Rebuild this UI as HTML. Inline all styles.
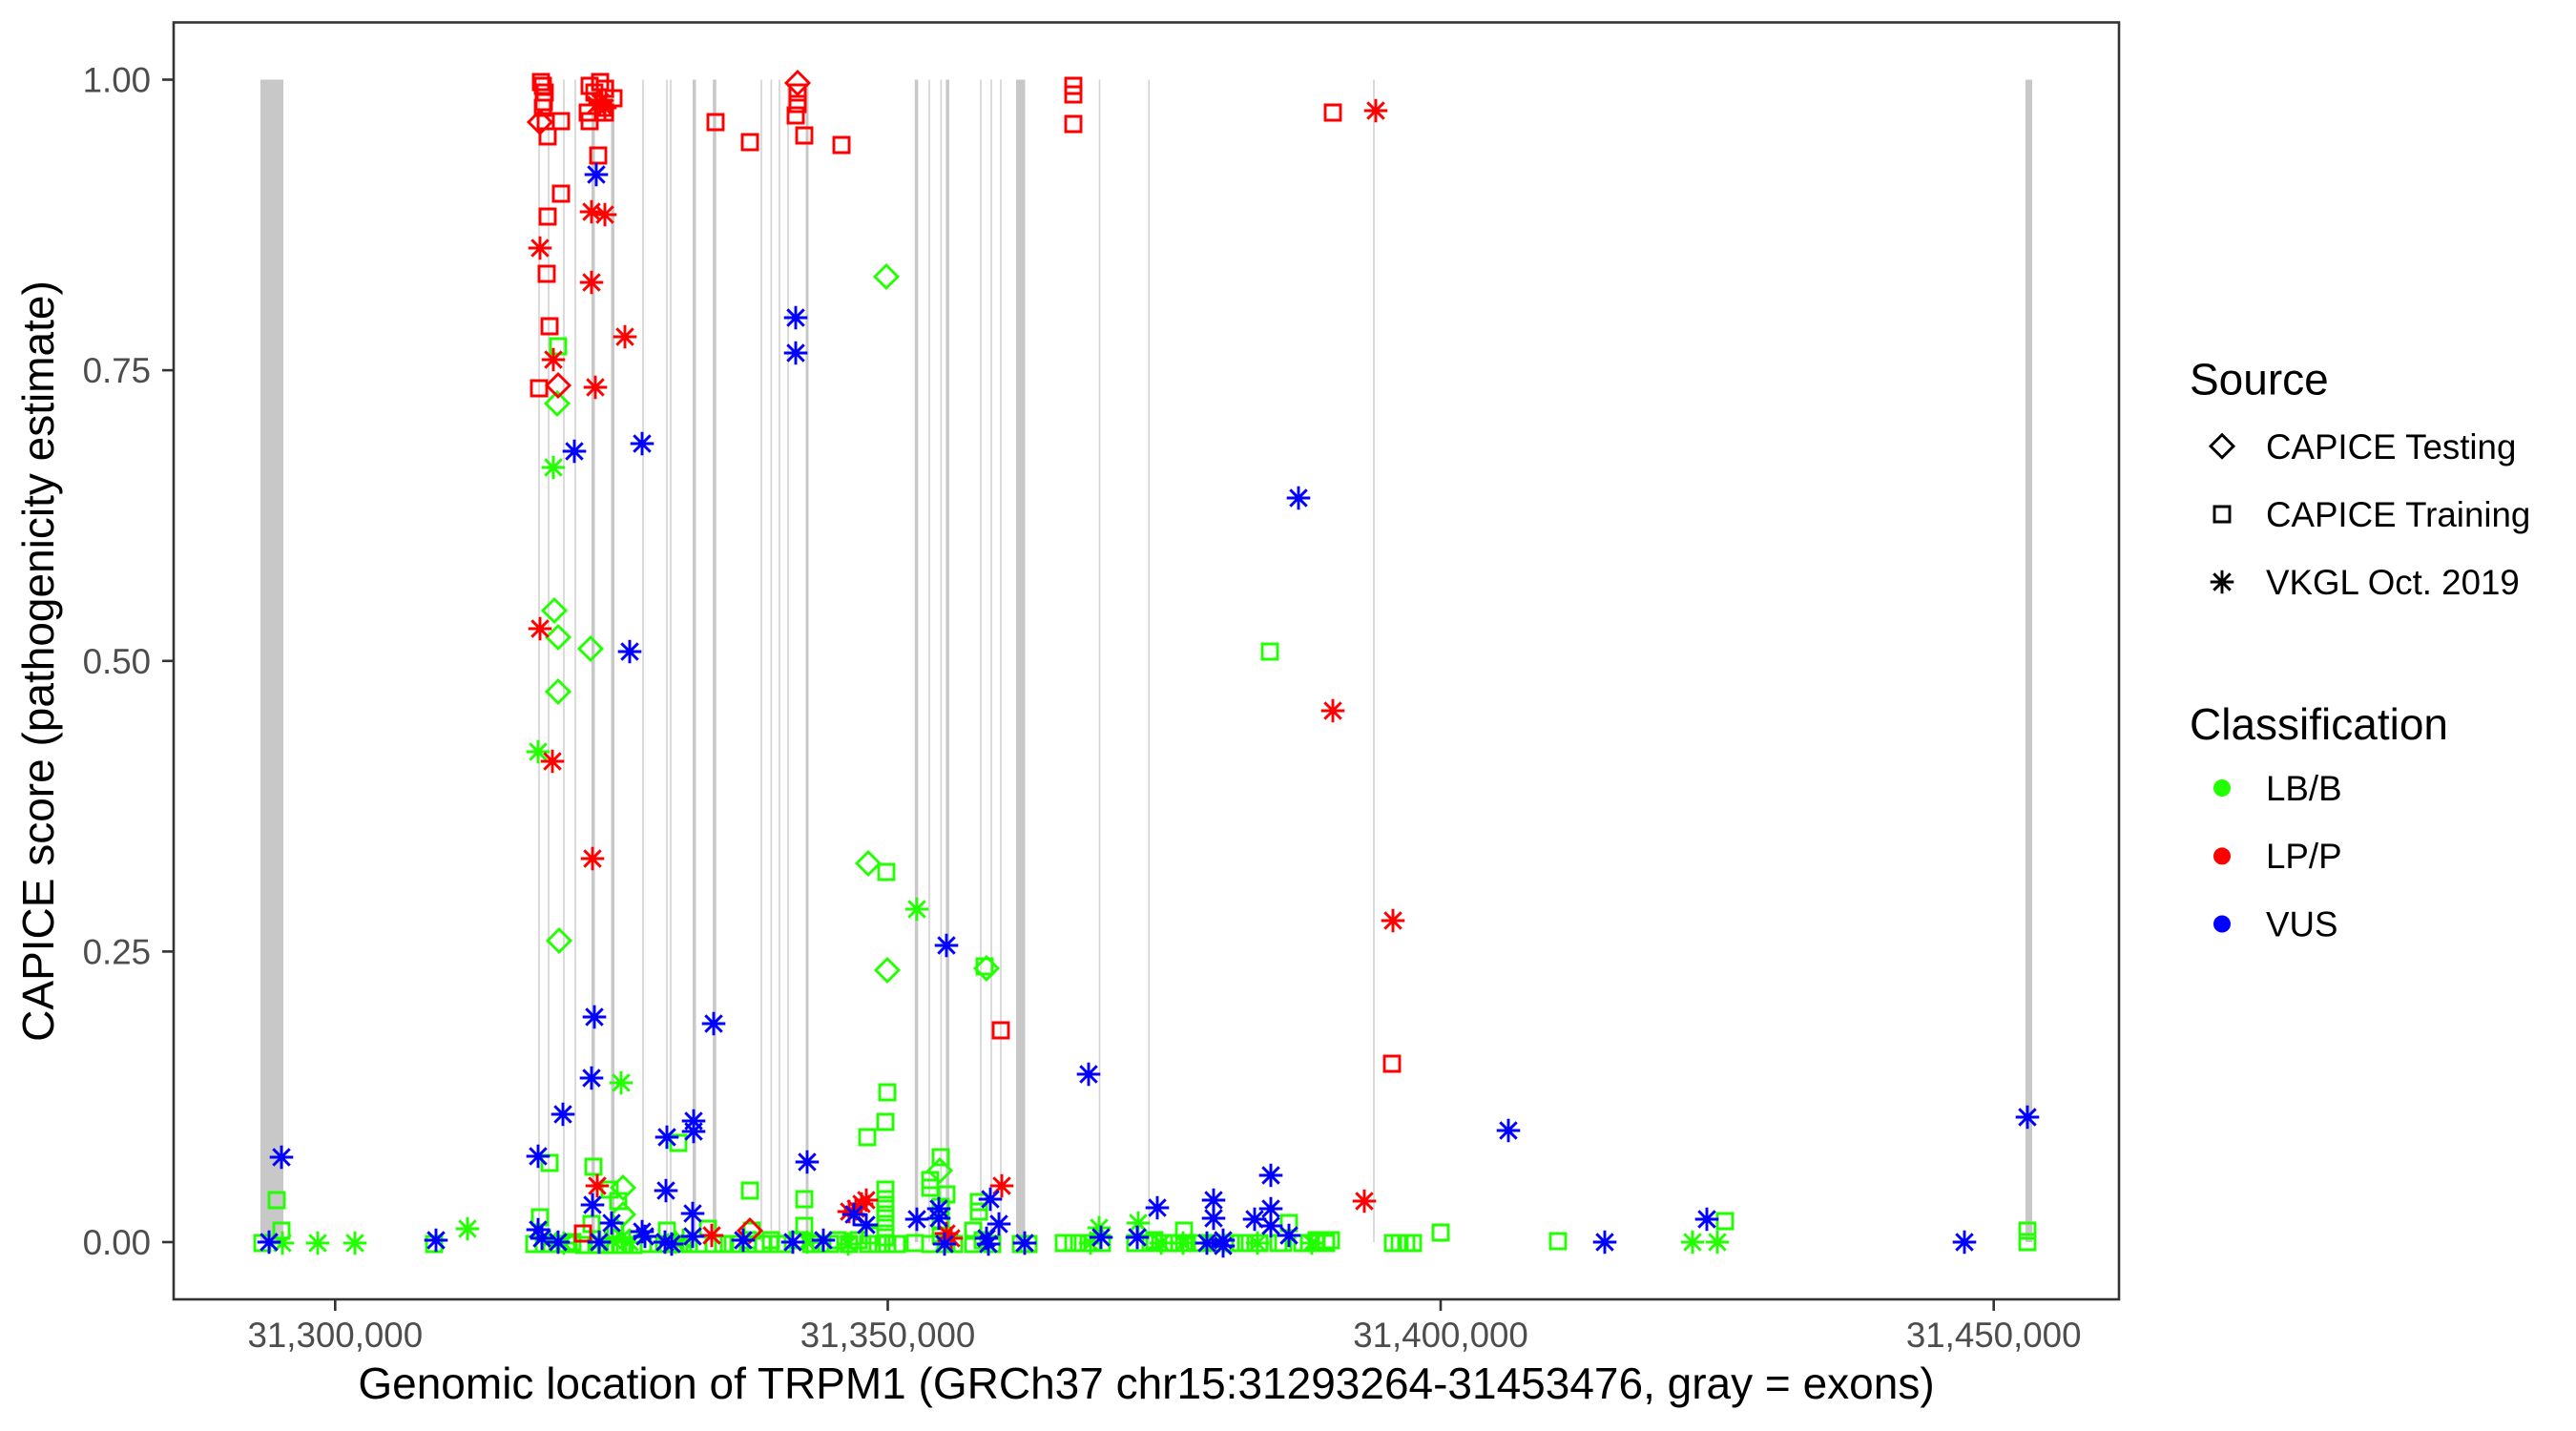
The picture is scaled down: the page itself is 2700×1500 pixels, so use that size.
<!DOCTYPE html>
<html><head><meta charset="utf-8"><style>
html,body{margin:0;padding:0;background:#fff;}
svg{display:block;font-family:"Liberation Sans",Arial,sans-serif;}
</style></head><body>
<svg width="2700" height="1500" viewBox="0 0 2700 1500" xmlns="http://www.w3.org/2000/svg">
<defs>
<path id="sq" d="M-8,-8h16v16h-16z" fill="none" stroke="currentColor" stroke-width="2.9"/>
<path id="di" d="M0,-12L12,0L0,12L-12,0Z" fill="none" stroke="currentColor" stroke-width="2.9" stroke-linejoin="miter"/>
<path id="st" d="M0,-12.3V12.3M-12.3,0H12.3M-8.7,-8.7L8.7,8.7M-8.7,8.7L8.7,-8.7" fill="none" stroke="currentColor" stroke-width="2.9"/>
</defs>
<rect width="2700" height="1500" fill="#fff"/>
<!-- exons -->
<g fill="#c8c8c8">
<rect x="273" y="83.5" width="24" height="1218.5"/>
<rect x="1065" y="83.5" width="9.5" height="1218.5"/>
<rect x="2123" y="83.5" width="7" height="1218.5"/>
<rect x="620" y="83.5" width="3.5" height="1218.5"/>
<rect x="640.5" y="83.5" width="3.5" height="1218.5"/>
<rect x="726" y="83.5" width="3.5" height="1218.5"/>
<rect x="747.2" y="83.5" width="3.5" height="1218.5"/>
<rect x="844.5" y="83.5" width="3" height="1218.5"/>
<rect x="958.8" y="83.5" width="3.5" height="1218.5"/>
<rect x="991.4" y="83.5" width="3.5" height="1218.5"/>
</g>
<g fill="#d2d2d2">
<rect x="564.2" y="83.5" width="1.6" height="1218.5"/>
<rect x="574.2" y="83.5" width="1.6" height="1218.5"/>
<rect x="590.2" y="83.5" width="1.6" height="1218.5"/>
<rect x="602.2" y="83.5" width="1.6" height="1218.5"/>
<rect x="673.2" y="83.5" width="1.6" height="1218.5"/>
<rect x="698.2" y="83.5" width="1.6" height="1218.5"/>
<rect x="702.2" y="83.5" width="1.6" height="1218.5"/>
<rect x="797.2" y="83.5" width="1.6" height="1218.5"/>
<rect x="807.6" y="83.5" width="1.6" height="1218.5"/>
<rect x="816.2" y="83.5" width="1.6" height="1218.5"/>
<rect x="825.2" y="83.5" width="1.6" height="1218.5"/>
<rect x="973.2" y="83.5" width="1.6" height="1218.5"/>
<rect x="985.6" y="83.5" width="1.6" height="1218.5"/>
<rect x="1027.2" y="83.5" width="1.6" height="1218.5"/>
<rect x="1038.2" y="83.5" width="1.6" height="1218.5"/>
<rect x="1048.2" y="83.5" width="1.6" height="1218.5"/>
<rect x="1151.7" y="83.5" width="1.6" height="1218.5"/>
<rect x="1203.5" y="83.5" width="1.6" height="1218.5"/>
<rect x="1439.2" y="83.5" width="1.6" height="1218.5"/>
</g>
<!-- green -->
<g color="#22ff00">
<use href="#sq" x="275" y="1303"/><use href="#sq" x="290" y="1258"/><use href="#sq" x="295" y="1290"/><use href="#sq" x="455" y="1304"/>
<use href="#sq" x="576" y="1219"/><use href="#sq" x="566" y="1276"/><use href="#sq" x="560" y="1304"/><use href="#sq" x="570" y="1304"/><use href="#sq" x="578" y="1304"/><use href="#sq" x="586" y="1304"/><use href="#sq" x="594" y="1304"/><use href="#sq" x="600" y="1302"/>
<use href="#sq" x="622" y="1223"/><use href="#sq" x="639" y="1247"/><use href="#sq" x="648" y="1259"/><use href="#sq" x="620" y="1283"/><use href="#sq" x="612" y="1305"/><use href="#sq" x="625" y="1305"/><use href="#sq" x="635" y="1305"/><use href="#sq" x="645" y="1305"/><use href="#sq" x="655" y="1305"/><use href="#sq" x="664" y="1305"/><use href="#sq" x="645" y="1290"/>
<use href="#sq" x="711" y="1198"/><use href="#sq" x="699" y="1290"/><use href="#sq" x="680" y="1304"/><use href="#sq" x="690" y="1304"/><use href="#sq" x="700" y="1304"/><use href="#sq" x="712" y="1304"/><use href="#sq" x="722" y="1304"/><use href="#sq" x="732" y="1304"/><use href="#sq" x="742" y="1288"/><use href="#sq" x="748" y="1304"/><use href="#sq" x="758" y="1304"/>
<use href="#sq" x="786" y="1248"/><use href="#sq" x="768" y="1304"/><use href="#sq" x="776" y="1304"/><use href="#sq" x="784" y="1300"/><use href="#sq" x="792" y="1304"/><use href="#sq" x="800" y="1304"/><use href="#sq" x="808" y="1300"/><use href="#sq" x="815" y="1304"/><use href="#sq" x="823" y="1304"/><use href="#sq" x="843" y="1257"/><use href="#sq" x="843" y="1285"/><use href="#sq" x="836" y="1300"/><use href="#sq" x="850" y="1304"/><use href="#sq" x="860" y="1304"/><use href="#sq" x="870" y="1304"/><use href="#sq" x="878" y="1300"/><use href="#sq" x="788" y="1290"/>
<use href="#sq" x="930" y="1145"/><use href="#sq" x="928" y="1176"/><use href="#sq" x="909" y="1192"/><use href="#sq" x="928" y="1247"/><use href="#sq" x="928" y="1257"/><use href="#sq" x="928" y="1267"/><use href="#sq" x="928" y="1277"/><use href="#sq" x="928" y="1287"/><use href="#sq" x="928" y="1297"/><use href="#sq" x="890" y="1304"/><use href="#sq" x="900" y="1300"/><use href="#sq" x="910" y="1304"/><use href="#sq" x="920" y="1304"/><use href="#sq" x="930" y="1304"/><use href="#sq" x="912" y="1295"/><use href="#sq" x="940" y="1304"/><use href="#sq" x="959" y="1303"/><use href="#sq" x="986" y="1213"/><use href="#sq" x="975" y="1237"/><use href="#sq" x="975" y="1245"/><use href="#sq" x="992" y="1252"/><use href="#sq" x="986" y="1265"/><use href="#sq" x="986" y="1280"/><use href="#sq" x="986" y="1295"/><use href="#sq" x="975" y="1304"/><use href="#sq" x="992" y="1304"/><use href="#sq" x="1000" y="1304"/>
<use href="#sq" x="1026" y="1260"/><use href="#sq" x="1026" y="1270"/><use href="#sq" x="1020" y="1290"/><use href="#sq" x="1030" y="1300"/><use href="#sq" x="1020" y="1304"/><use href="#sq" x="1040" y="1304"/><use href="#sq" x="1070" y="1304"/><use href="#sq" x="1078" y="1304"/>
<use href="#sq" x="1115" y="1303"/><use href="#sq" x="1125" y="1303"/><use href="#sq" x="1135" y="1303"/><use href="#sq" x="1145" y="1303"/><use href="#sq" x="1155" y="1303"/><use href="#sq" x="1190" y="1303"/><use href="#sq" x="1200" y="1303"/><use href="#sq" x="1210" y="1300"/><use href="#sq" x="1220" y="1303"/><use href="#sq" x="1230" y="1303"/><use href="#sq" x="1241" y="1290"/><use href="#sq" x="1241" y="1303"/><use href="#sq" x="1253" y="1303"/><use href="#sq" x="1260" y="1303"/><use href="#sq" x="1270" y="1303"/><use href="#sq" x="1290" y="1303"/><use href="#sq" x="1300" y="1303"/><use href="#sq" x="1310" y="1303"/><use href="#sq" x="1320" y="1303"/><use href="#sq" x="1340" y="1303"/><use href="#sq" x="1351" y="1282"/><use href="#sq" x="1345" y="1303"/><use href="#sq" x="1365" y="1303"/><use href="#sq" x="1372" y="1303"/><use href="#sq" x="1380" y="1300"/><use href="#sq" x="1390" y="1303"/><use href="#sq" x="1395" y="1300"/>
<use href="#sq" x="1460" y="1303"/><use href="#sq" x="1467" y="1303"/><use href="#sq" x="1474" y="1303"/><use href="#sq" x="1481" y="1303"/><use href="#sq" x="1510" y="1292"/><use href="#sq" x="1633" y="1301"/><use href="#sq" x="1808" y="1280"/><use href="#sq" x="2125" y="1290"/><use href="#sq" x="2125" y="1302"/>
<use href="#sq" x="585" y="363"/><use href="#sq" x="929" y="914"/><use href="#sq" x="1032" y="1013"/><use href="#sq" x="1331" y="683"/>
<use href="#di" x="653" y="1245"/><use href="#di" x="653" y="1273"/><use href="#di" x="985" y="1227"/><use href="#di" x="584" y="423"/><use href="#di" x="581" y="640"/><use href="#di" x="585" y="668"/><use href="#di" x="619" y="680"/><use href="#di" x="585" y="725"/><use href="#di" x="586" y="986"/><use href="#di" x="929" y="290"/><use href="#di" x="910" y="905"/><use href="#di" x="930" y="1017"/><use href="#di" x="1034" y="1015"/>
<use href="#st" x="296" y="1303"/><use href="#st" x="333" y="1303"/><use href="#st" x="372" y="1303"/><use href="#st" x="490" y="1288"/><use href="#st" x="576" y="1300"/><use href="#st" x="591" y="1303"/><use href="#st" x="651" y="1135"/><use href="#st" x="629" y="1302"/><use href="#st" x="642" y="1300"/><use href="#st" x="652" y="1297"/><use href="#st" x="660" y="1302"/><use href="#st" x="708" y="1302"/><use href="#st" x="716" y="1300"/><use href="#st" x="846" y="1302"/><use href="#st" x="889" y="1304"/><use href="#st" x="990" y="1302"/><use href="#st" x="1074" y="1303"/><use href="#st" x="1152" y="1287"/><use href="#st" x="1143" y="1303"/><use href="#st" x="1193" y="1282"/><use href="#st" x="1217" y="1303"/><use href="#st" x="1240" y="1303"/><use href="#st" x="1318" y="1303"/><use href="#st" x="1375" y="1303"/><use href="#st" x="1774" y="1302"/><use href="#st" x="1800" y="1302"/><use href="#st" x="580" y="490"/><use href="#st" x="564" y="788"/><use href="#st" x="961" y="953"/>
</g>
<!-- red -->
<g color="#ff0000">
<use href="#sq" x="567" y="86"/><use href="#sq" x="569" y="90"/><use href="#sq" x="571" y="97"/><use href="#sq" x="570" y="107"/><use href="#sq" x="569" y="113"/><use href="#sq" x="572" y="127"/><use href="#sq" x="574" y="143"/><use href="#sq" x="588" y="127"/><use href="#sq" x="618" y="90"/><use href="#sq" x="623" y="97"/><use href="#sq" x="629" y="86"/><use href="#sq" x="634" y="93"/><use href="#sq" x="643" y="103"/><use href="#sq" x="616" y="118"/><use href="#sq" x="618" y="127"/><use href="#sq" x="634" y="118"/><use href="#sq" x="632" y="113"/><use href="#sq" x="627" y="163"/><use href="#sq" x="588" y="203"/><use href="#sq" x="574" y="227"/><use href="#sq" x="573" y="287"/><use href="#sq" x="576" y="342"/><use href="#sq" x="565" y="407"/><use href="#sq" x="611" y="1293"/>
<use href="#sq" x="836" y="97"/><use href="#sq" x="836" y="109"/><use href="#sq" x="834" y="121"/><use href="#sq" x="843" y="142"/><use href="#sq" x="750" y="128"/><use href="#sq" x="786" y="149"/><use href="#sq" x="882" y="152"/><use href="#sq" x="1125" y="90"/><use href="#sq" x="1125" y="99"/><use href="#sq" x="1125" y="130"/><use href="#sq" x="1397" y="118"/><use href="#sq" x="1049" y="1080"/><use href="#sq" x="1459" y="1115"/>
<use href="#di" x="566" y="128"/><use href="#di" x="585" y="404"/><use href="#di" x="836" y="87"/><use href="#di" x="786" y="1290"/>
<use href="#st" x="629" y="107"/><use href="#st" x="634" y="113"/><use href="#st" x="625" y="110"/><use href="#st" x="620" y="222"/><use href="#st" x="634" y="225"/><use href="#st" x="566" y="260"/><use href="#st" x="620" y="296"/><use href="#st" x="655" y="353"/><use href="#st" x="580" y="377"/><use href="#st" x="624" y="406"/><use href="#st" x="566" y="659"/><use href="#st" x="579" y="798"/><use href="#st" x="621" y="900"/><use href="#st" x="626" y="1243"/><use href="#st" x="746" y="1295"/><use href="#st" x="908" y="1258"/><use href="#st" x="897" y="1267"/><use href="#st" x="890" y="1270"/><use href="#st" x="903" y="1262"/><use href="#st" x="992" y="1293"/><use href="#st" x="997" y="1298"/><use href="#st" x="1050" y="1243"/><use href="#st" x="1430" y="1259"/><use href="#st" x="1442" y="116"/><use href="#st" x="1397" y="745"/><use href="#st" x="1460" y="965"/>
</g>
<!-- blue -->
<g color="#0000ff">
<use href="#st" x="282" y="1302"/><use href="#st" x="295" y="1213"/><use href="#st" x="457" y="1300"/><use href="#st" x="564" y="1212"/><use href="#st" x="564" y="1289"/><use href="#st" x="568" y="1298"/><use href="#st" x="590" y="1168"/><use href="#st" x="585" y="1302"/><use href="#st" x="620" y="1130"/><use href="#st" x="621" y="1263"/><use href="#st" x="641" y="1282"/><use href="#st" x="628" y="1302"/><use href="#st" x="673" y="1291"/><use href="#st" x="676" y="1296"/><use href="#st" x="699" y="1192"/><use href="#st" x="698" y="1248"/><use href="#st" x="697" y="1302"/><use href="#st" x="727" y="1175"/><use href="#st" x="727" y="1186"/><use href="#st" x="726" y="1272"/><use href="#st" x="726" y="1296"/><use href="#st" x="704" y="1304"/><use href="#st" x="779" y="1300"/><use href="#st" x="846" y="1218"/><use href="#st" x="831" y="1302"/><use href="#st" x="863" y="1300"/><use href="#st" x="895" y="1273"/><use href="#st" x="908" y="1284"/><use href="#st" x="961" y="1278"/><use href="#st" x="984" y="1267"/><use href="#st" x="984" y="1277"/><use href="#st" x="990" y="1304"/><use href="#st" x="1038" y="1257"/><use href="#st" x="1047" y="1283"/><use href="#st" x="1034" y="1298"/><use href="#st" x="1036" y="1304"/><use href="#st" x="1074" y="1303"/><use href="#st" x="1141" y="1126"/><use href="#st" x="1154" y="1297"/><use href="#st" x="1192" y="1297"/><use href="#st" x="1213" y="1266"/><use href="#st" x="1272" y="1258"/><use href="#st" x="1272" y="1277"/><use href="#st" x="1265" y="1303"/><use href="#st" x="1282" y="1300"/><use href="#st" x="1282" y="1306"/><use href="#st" x="1332" y="1232"/><use href="#st" x="1332" y="1267"/><use href="#st" x="1315" y="1278"/><use href="#st" x="1332" y="1285"/><use href="#st" x="1351" y="1295"/><use href="#st" x="1581" y="1185"/><use href="#st" x="1682" y="1302"/><use href="#st" x="1789" y="1278"/><use href="#st" x="2059" y="1302"/><use href="#st" x="2125" y="1171"/><use href="#st" x="625" y="183"/><use href="#st" x="602" y="473"/><use href="#st" x="673" y="465"/><use href="#st" x="660" y="683"/><use href="#st" x="623" y="1066"/><use href="#st" x="748" y="1073"/><use href="#st" x="834" y="333"/><use href="#st" x="834" y="370"/><use href="#st" x="992" y="991"/><use href="#st" x="1361" y="522"/>
</g>
<!-- panel border -->
<rect x="182" y="23.5" width="2039" height="1338.5" fill="none" stroke="#333333" stroke-width="2.6"/>
<!-- ticks -->
<g stroke="#333333" stroke-width="2.6">
<line x1="170" y1="83.5" x2="182" y2="83.5"/><line x1="170" y1="388.1" x2="182" y2="388.1"/><line x1="170" y1="692.8" x2="182" y2="692.8"/><line x1="170" y1="997.4" x2="182" y2="997.4"/><line x1="170" y1="1302" x2="182" y2="1302"/>
<line x1="351.3" y1="1362" x2="351.3" y2="1374"/><line x1="930.5" y1="1362" x2="930.5" y2="1374"/><line x1="1510" y1="1362" x2="1510" y2="1374"/><line x1="2089.7" y1="1362" x2="2089.7" y2="1374"/>
</g>
<g fill="#4d4d4d" font-size="36.7" text-anchor="end">
<text x="158" y="96.5">1.00</text><text x="158" y="401.1">0.75</text><text x="158" y="705.8">0.50</text><text x="158" y="1010.4">0.25</text><text x="158" y="1315">0.00</text>
</g>
<g fill="#4d4d4d" font-size="36.7" text-anchor="middle">
<text x="351.3" y="1412">31,300,000</text><text x="930.5" y="1412">31,350,000</text><text x="1510" y="1412">31,400,000</text><text x="2089.7" y="1412">31,450,000</text>
</g>
<text x="1201.5" y="1466" font-size="46" text-anchor="middle" fill="#000">Genomic location of TRPM1 (GRCh37 chr15:31293264-31453476, gray = exons)</text>
<text transform="translate(56,693) rotate(-90)" font-size="46" text-anchor="middle" fill="#000">CAPICE score (pathogenicity estimate)</text>
<!-- legend -->
<text x="2295" y="413.5" font-size="46" fill="#000">Source</text>
<g color="#000"><use href="#di" x="2329" y="467.7"/><use href="#sq" x="2329" y="539"/><use href="#st" x="2329" y="610"/></g>
<g font-size="36.7" fill="#000">
<text x="2375" y="481">CAPICE Testing</text><text x="2375" y="552">CAPICE Training</text><text x="2375" y="623">VKGL Oct. 2019</text>
</g>
<text x="2295" y="775" font-size="46" fill="#000">Classification</text>
<circle cx="2329" cy="826" r="9" fill="#22ff00"/><circle cx="2329" cy="897.4" r="9" fill="#ff0000"/><circle cx="2329" cy="968.5" r="9" fill="#0000ff"/>
<g font-size="36.7" fill="#000">
<text x="2375" y="839">LB/B</text><text x="2375" y="910">LP/P</text><text x="2375" y="981.5">VUS</text>
</g>
</svg>
</body></html>
